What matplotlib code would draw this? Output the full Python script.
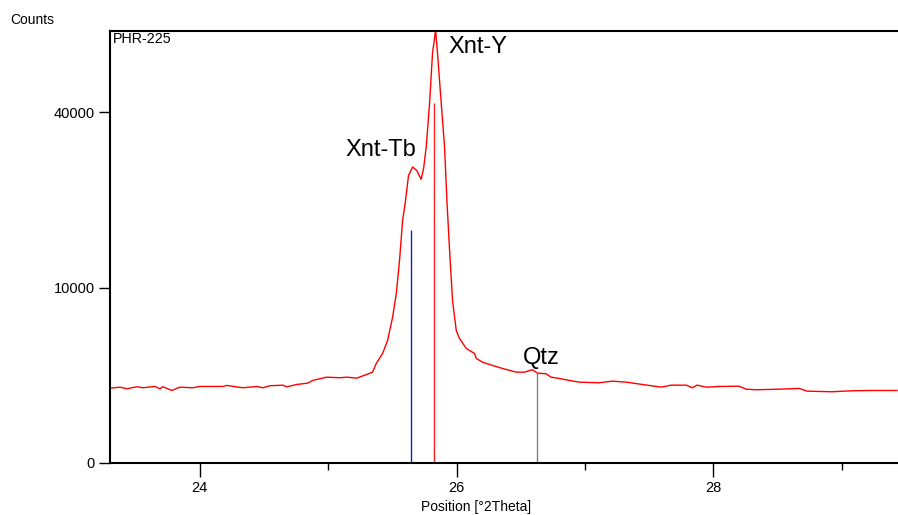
import numpy as np
import matplotlib
matplotlib.use("Agg")
import matplotlib.pyplot as plt
from matplotlib.ticker import FixedLocator

plt.rcParams['font.family'] = ['Liberation Sans', 'DejaVu Sans']

# Measured pattern (2theta, counts)
two_theta = [23.300, 23.377, 23.432, 23.510, 23.556, 23.650, 23.689, 23.712, 23.782, 23.844,
             23.946, 24.000, 24.179, 24.210, 24.335, 24.444, 24.490, 24.545, 24.646, 24.677,
             24.755, 24.840, 24.879, 24.988, 25.089, 25.144, 25.222, 25.300, 25.346, 25.375,
             25.424, 25.463, 25.502, 25.531, 25.556, 25.580, 25.603, 25.626, 25.658, 25.689,
             25.725, 25.744, 25.764, 25.790, 25.813, 25.837, 25.852, 25.881, 25.907, 25.925,
             25.946, 25.969, 25.998, 26.023, 26.076, 26.140, 26.154, 26.202, 26.280, 26.358,
             26.465, 26.529, 26.591, 26.630, 26.698, 26.737, 26.802, 26.879, 26.957, 27.113,
             27.214, 27.323, 27.447, 27.595, 27.673, 27.790, 27.837, 27.875, 27.946, 28.047,
             28.202, 28.257, 28.335, 28.514, 28.669, 28.732, 28.926, 29.082, 29.237, 29.393,
             29.432]
counts = [1822, 1871, 1793, 1891, 1841, 1906, 1793, 1891, 1711, 1871,
          1841, 1906, 1906, 1956, 1841, 1906, 1841, 1941, 1971, 1891,
          2006, 2073, 2216, 2397, 2364, 2397, 2341, 2550, 2685, 3224,
          3904, 4886, 6922, 9355, 13352, 19147, 22437, 26900, 28500, 27860,
          26170, 28300, 32470, 42080, 54600, 61000, 54600, 42080, 32470, 22437,
          14703, 8598, 5716, 5047, 4269, 3904, 3556, 3308, 3095, 2908,
          2685, 2685, 2828, 2626, 2591, 2397, 2325, 2216, 2126, 2094,
          2179, 2126, 2006, 1871, 1971, 1971, 1841, 1971, 1871, 1906,
          1920, 1773, 1745, 1773, 1807, 1679, 1651, 1697, 1711, 1711,
          1711]

# Reference sticks
stick_pos = [25.642, 25.826, 26.625]
stick_int = [17600, 42080, 2626]
stick_colors = ['#1a1acc', '#ff2020', '#808080']

peak_labels = ['Xnt-Tb', 'Xnt-Y', 'Qtz']
label_pos = [(25.41, 31800), (26.17, 56200), (26.66, 3620)]

x_ticks = [24, 26, 28]
x_minor = [25, 27, 29]
y_ticks = [0, 10000, 40000]

fig = plt.figure(figsize=(8.98, 5.15), dpi=100)
ax = fig.add_axes([110/898, 52/515, 788/898, 432/515])

ax.set_yscale('function', functions=(lambda v: np.sqrt(np.clip(v, 0, None)), np.square))
ax.plot(two_theta, counts, color='#ff0000', lw=1.0)
for p, h, c in zip(stick_pos, stick_int, stick_colors):
    ax.vlines(p, 0, h, color=c, lw=1.0)

for t, (px, py) in zip(peak_labels, label_pos):
    ax.text(px, py, t, fontsize=17, ha='center', va='center', color='black')

ax.set_xlim(23.30, 29.44)
ax.set_ylim(0, 60700)

ax.xaxis.set_major_locator(FixedLocator(x_ticks))
ax.xaxis.set_minor_locator(FixedLocator(x_minor))
ax.yaxis.set_major_locator(FixedLocator(y_ticks))
ax.yaxis.set_minor_locator(FixedLocator([]))
ax.set_xticklabels([str(v) for v in x_ticks])
ax.set_yticklabels([str(v) for v in y_ticks])
ax.tick_params(axis='x', which='major', length=10, width=1, labelsize=10.5, pad=3)
ax.tick_params(axis='x', which='minor', length=5, width=1)
ax.tick_params(axis='y', which='major', length=8, width=1, labelsize=10.5, pad=3)

for s in ['left', 'bottom', 'top']:
    ax.spines[s].set_linewidth(1.5)
ax.spines['right'].set_visible(False)

ax.text(0.004, 0.997, 'PHR-225', transform=ax.transAxes, fontsize=10.3, ha='left', va='top')
fig.text(10/898, 1 - 20/515, 'Counts', fontsize=10, ha='left', va='center')
fig.text(476/898, 1 - 507/515, 'Position [°2Theta]', fontsize=10, ha='center', va='center')

fig.savefig('out.png', dpi=100)
